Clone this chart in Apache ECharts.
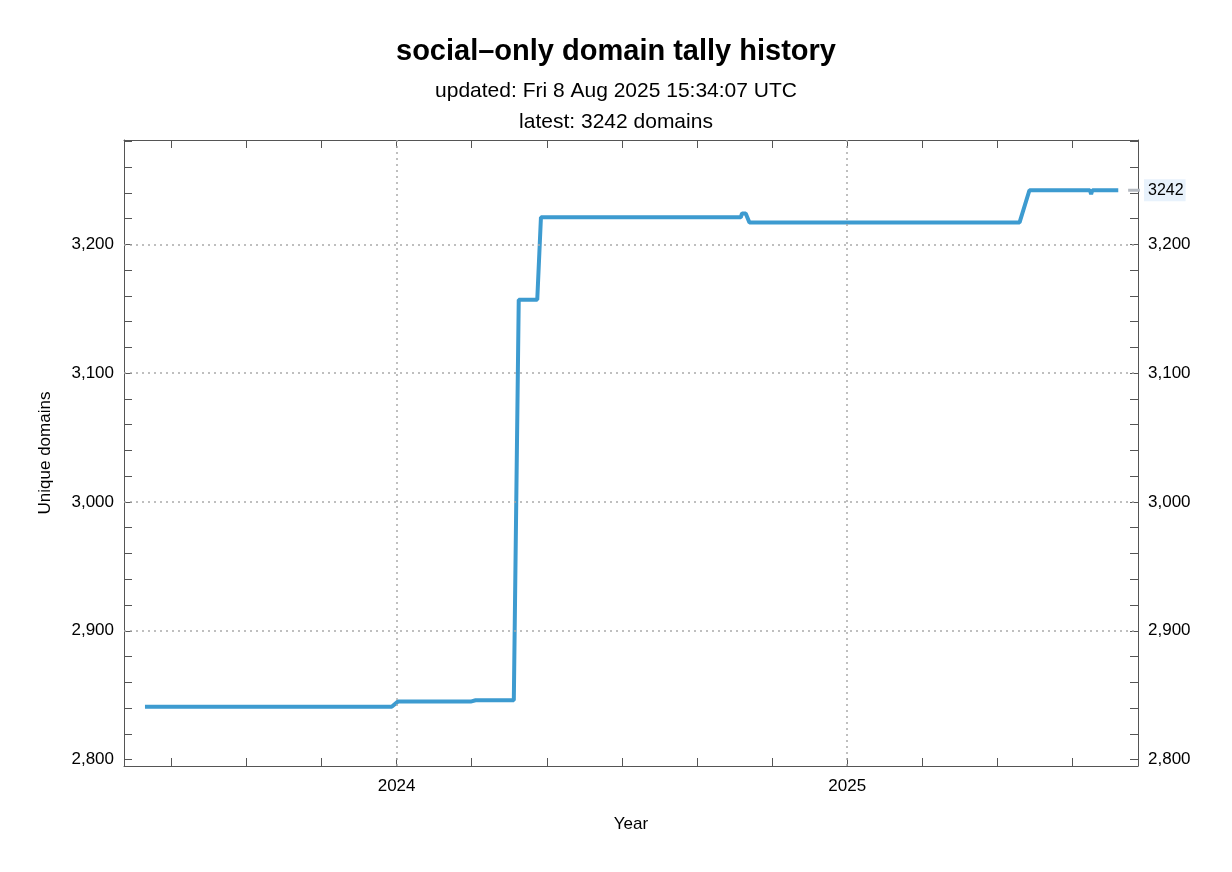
<!DOCTYPE html>
<html>
<head>
<meta charset="utf-8">
<script src="https://cdn.jsdelivr.net/npm/echarts@6/dist/echarts.min.js"></script>
<style>html,body{margin:0;background:#fff}#c{width:1232px;height:872px}</style>
</head>
<body>
<div id="c"></div>
<script>
// tally history
const dates = ['2023-06-11', '2023-12-28', '2024-01-02', '2024-03-01', '2024-03-05', '2024-04-05',
  '2024-04-09', '2024-04-24', '2024-04-27', '2024-10-06', '2024-10-07', '2024-10-10', '2024-10-13',
  '2025-05-20', '2025-05-28', '2025-07-16', '2025-07-17', '2025-07-18', '2025-08-08']
const tally = [2841, 2841, 2845, 2845, 2846, 2846,
  3157, 3157, 3221, 3221, 3224, 3224, 3217,
  3217, 3242, 3242, 3239, 3242, 3242]
const latestMarkDates = ['2025-08-16', '2025-08-29']
const latest = 3242

// x axis is months since 2024-01-01
const xTickMonths = [-6, -4, -2, 0, 2, 4, 6, 8, 10, 12, 14, 16, 18]
const xLabelMonths = [0, 12]
const xLabels = { 0: '2024', 12: '2025' }
const yTicks = [2800, 2820, 2840, 2860, 2880, 2900, 2920, 2940, 2960, 2980, 3000, 3020, 3040,
  3060, 3080, 3100, 3120, 3140, 3160, 3180, 3200, 3220, 3240, 3260, 3280]
const yLabels = [2800, 2900, 3000, 3100, 3200]

const base = Date.UTC(2024, 0, 1)
const toMonths = d => (Date.parse(d + 'T00:00:00Z') - base) / 86400000 / 30.4375
const xMin = toMonths('2023-05-25')
const xMax = toMonths('2025-08-24')
const yMin = 2795
const yMax = 3281

const axisGrey = '#555'
const font = 'Liberation Sans, Arial, sans-serif'
const gridStyle = { type: [2, 4], color: '#aaa', width: 1.5 }

const myChart = echarts.init(document.getElementById('c'))
const xBase = {
  type: 'value', min: xMin, max: xMax,
  axisLine: { show: true, onZero: false, lineStyle: { color: axisGrey } },
  axisTick: { show: true, inside: true, length: 8, customValues: xTickMonths, lineStyle: { color: axisGrey } },
  splitLine: { show: false }
}
const yBase = {
  type: 'value', min: yMin, max: yMax,
  axisLine: { show: true, onZero: false, lineStyle: { color: axisGrey } },
  axisTick: { show: true, inside: true, length: 8, customValues: yTicks, lineStyle: { color: axisGrey } },
  splitLine: { show: false },
  axisLabel: { color: '#000', fontSize: 17, fontFamily: font, margin: 10, customValues: yLabels }
}
const option = {
  animation: false,
  title: [
    { text: 'social\u2013only domain tally history', left: 'center', top: 32,
      textStyle: { fontSize: 29, fontWeight: 'bold', color: '#000', fontFamily: font } },
    { text: 'updated: Fri 8 Aug 2025 15:34:07 UTC', left: 'center', top: 76,
      textStyle: { fontSize: 21, fontWeight: 'normal', color: '#000', fontFamily: font } },
    { text: 'latest: 3242 domains', left: 'center', top: 107,
      textStyle: { fontSize: 21, fontWeight: 'normal', color: '#000', fontFamily: font } }
  ],
  grid: { left: 124, right: 94, top: 140, bottom: 106 },
  xAxis: [
    Object.assign({}, xBase, {
      position: 'bottom', name: 'Year', nameLocation: 'middle', nameGap: 50,
      nameTextStyle: { fontSize: 17, color: '#000', fontFamily: font },
      axisLabel: { color: '#000', fontSize: 17, fontFamily: font, margin: 12,
        customValues: xLabelMonths, formatter: v => xLabels[Math.round(v)] || '' }
    }),
    Object.assign({}, xBase, { position: 'top', axisLabel: { show: false } })
  ],
  yAxis: [
    Object.assign({}, yBase, { position: 'left', name: 'Unique domains', nameLocation: 'middle',
      nameGap: 70, nameTextStyle: { fontSize: 17, color: '#000', fontFamily: font } }),
    Object.assign({}, yBase, { position: 'right' })
  ],
  series: [
    {
      type: 'line', xAxisIndex: 0, yAxisIndex: 0, showSymbol: false, z: 3,
      data: dates.map((d, i) => [toMonths(d), tally[i]]),
      lineStyle: { color: '#3d9bd0', width: 4 },
      markLine: {
        silent: true, symbol: 'none', label: { show: false }, lineStyle: gridStyle,
        data: xLabelMonths.map(v => ({ xAxis: v })).concat(yLabels.slice(1).map(v => ({ yAxis: v })))
      }
    },
    {
      type: 'line', xAxisIndex: 0, yAxisIndex: 0, showSymbol: false, clip: false,
      data: latestMarkDates.map(d => [toMonths(d), latest]),
      lineStyle: { color: '#b4b9c0', width: 3 },
      endLabel: { show: true, formatter: String(latest), fontSize: 16, color: '#000',
        fontFamily: font, backgroundColor: '#e8f2fc', padding: [3, 2, 3, 4], distance: 4 }
    }
  ]
}
myChart.setOption(option)
</script>
</body>
</html>
